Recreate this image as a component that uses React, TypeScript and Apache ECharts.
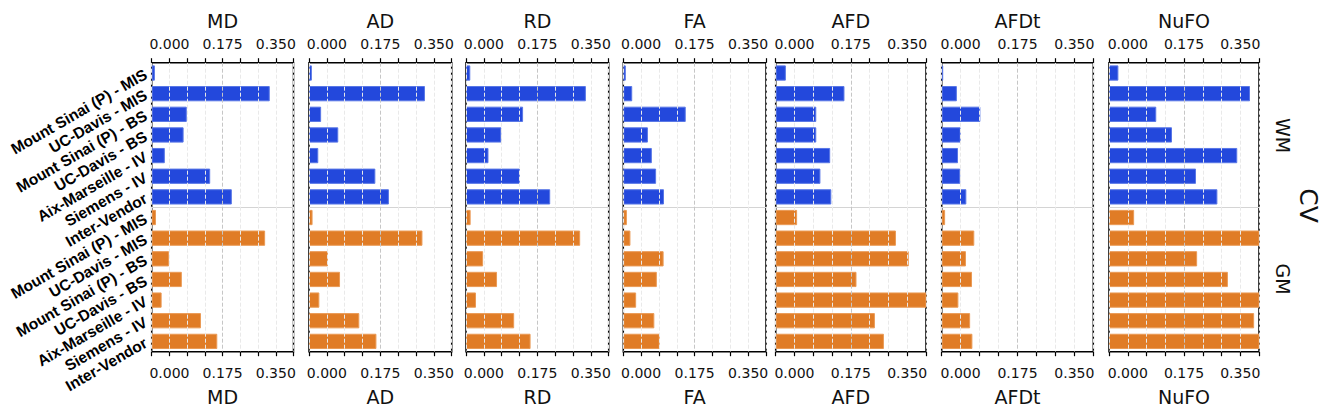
import React, { useEffect, useRef } from "react";
import * as echarts from "echarts";

// ---- data ----
const metrics = ["MD", "AD", "RD", "FA", "AFD", "AFDt", "NuFO"];
const sites = [
  "Mount Sinai (P) - MIS",
  "UC-Davis - MIS",
  "Mount Sinai (P) - BS",
  "UC-Davis - BS",
  "Aix-Marseille - IV",
  "Siemens - IV",
  "Inter-Vendor",
];
const tissues = ["WM", "GM"];
const axisTitle = "CV";

const wmMD = [0.009, 0.333, 0.099, 0.09, 0.037, 0.165, 0.226];
const gmMD = [0.012, 0.32, 0.049, 0.085, 0.028, 0.139, 0.185];
const wmAD = [0.008, 0.325, 0.034, 0.082, 0.026, 0.186, 0.224];
const gmAD = [0.01, 0.318, 0.053, 0.087, 0.029, 0.141, 0.189];
const wmRD = [0.012, 0.336, 0.16, 0.099, 0.063, 0.151, 0.236];
const gmRD = [0.013, 0.32, 0.048, 0.087, 0.028, 0.135, 0.181];
const wmFA = [0.007, 0.025, 0.175, 0.069, 0.08, 0.092, 0.114];
const gmFA = [0.01, 0.02, 0.113, 0.094, 0.036, 0.087, 0.102];
const wmAFD = [0.027, 0.183, 0.108, 0.108, 0.145, 0.119, 0.148];
const gmAFD = [0.057, 0.32, 0.354, 0.215, 0.45, 0.264, 0.288];
const wmAFDt = [0.004, 0.04, 0.102, 0.05, 0.043, 0.049, 0.065];
const gmAFDt = [0.009, 0.086, 0.064, 0.08, 0.044, 0.075, 0.081];
const wmNuFO = [0.025, 0.376, 0.126, 0.168, 0.342, 0.232, 0.289];
const gmNuFO = [0.067, 0.45, 0.235, 0.317, 0.45, 0.387, 0.45];

const wmSeries = [wmMD, wmAD, wmRD, wmFA, wmAFD, wmAFDt, wmNuFO];
const gmSeries = [gmMD, gmAD, gmRD, gmFA, gmAFD, gmAFDt, gmNuFO];

const tickValues = [0.05, 0.2, 0.35];
const tickLabels = ["0.000", "0.175", "0.350"];
const axisMin = 0;
const axisMax = 0.4;
const axisStep = 0.05;

// ---- layout ----
const panelLeft = [151.7, 309, 466, 623.3, 775.7, 941.7, 1109];
const panelWidth = [141.8, 142.7, 142.7, 142.7, 150.3, 151.6, 150];
const panelTop = 62.7;
const panelHeight = 289;

const FONT = "DejaVu Sans";
const LABEL_FONT = "Liberation Sans";
const BLUE = "#2348dc";
const BLUE_EDGE = "#5876e6";
const ORANGE = "#e07c26";
const ORANGE_EDGE = "#ea9a55";

const categories = [...sites, ...sites];

function tickFormatter(v: number) {
  for (let k = 0; k < tickValues.length; k++) {
    if (Math.abs(v - tickValues[k]) < 1e-6) return tickLabels[k];
  }
  return "";
}

function buildOption() {
  const grid: any[] = [];
  const xAxis: any[] = [];
  const yAxis: any[] = [];
  const series: any[] = [];
  const nTicks = Math.round((axisMax - axisMin) / axisStep) + 1;
  const gridColors = Array.from({ length: nTicks }, (_, k) =>
    Math.abs(axisMin + k * axisStep - 0.2) < 1e-6 ? "#c6c6c6" : "#e9e9e9"
  );
  const sepColors = Array.from({ length: categories.length + 1 }, (_, k) =>
    k === sites.length ? "#d4d4d4" : "rgba(0,0,0,0)"
  );

  metrics.forEach((m, i) => {
    grid.push({
      left: panelLeft[i],
      top: panelTop,
      width: panelWidth[i],
      height: panelHeight,
      show: true,
      borderColor: "#000",
      borderWidth: 1.5,
      backgroundColor: "rgba(0,0,0,0)",
      containLabel: false,
      outerBoundsMode: "none",
    });
    const common = {
      type: "value",
      gridIndex: i,
      min: axisMin,
      max: axisMax,
      interval: axisStep,
      z: 3,
      axisLine: { show: false },
      axisTick: { show: true, inside: false, length: 4.5, lineStyle: { color: "#000", width: 1.2 } },
      name: m,
      nameLocation: "middle",
      nameTextStyle: { fontSize: 19, fontFamily: FONT, color: "#111" },
    };
    xAxis.push({
      ...common,
      position: "top",
      nameGap: 32,
      axisLabel: { formatter: tickFormatter, fontSize: 14, fontFamily: FONT, color: "#111", margin: 12 },
      splitLine: { show: false },
    });
    xAxis.push({
      ...common,
      position: "bottom",
      nameGap: 36,
      axisLabel: { formatter: tickFormatter, fontSize: 14, fontFamily: FONT, color: "#111", margin: 14 },
      splitLine: { show: true, lineStyle: { color: gridColors, type: "dashed", width: 1 } },
    });
    yAxis.push({
      type: "category",
      gridIndex: i,
      inverse: true,
      data: categories,
      axisLine: { show: false },
      axisTick: { show: false },
      axisLabel: {
        show: i === 0,
        interval: 0,
        rotate: 30,
        fontWeight: "bold",
        fontSize: 15.5,
        fontFamily: LABEL_FONT,
        color: "#000",
        margin: 6,
      },
      splitLine: { show: true, lineStyle: { color: sepColors, width: 1.2 } },
    });
    series.push({
      type: "bar",
      xAxisIndex: 2 * i + 1,
      yAxisIndex: i,
      barWidth: "74%",
      data: [
        ...wmSeries[i].map((v) => ({
          value: v,
          itemStyle: { color: BLUE, borderColor: BLUE_EDGE, borderWidth: 1 },
        })),
        ...gmSeries[i].map((v) => ({
          value: v,
          itemStyle: { color: ORANGE, borderColor: ORANGE_EDGE, borderWidth: 1 },
        })),
      ],
    });
  });

  const graphic = [
    {
      type: "text",
      x: 1283,
      y: 135.5,
      rotation: -Math.PI / 2,
      style: { text: tissues[0], fontSize: 19, fontFamily: FONT, fill: "#111", align: "center", verticalAlign: "middle" },
    },
    {
      type: "text",
      x: 1283,
      y: 279,
      rotation: -Math.PI / 2,
      style: { text: tissues[1], fontSize: 19, fontFamily: FONT, fill: "#111", align: "center", verticalAlign: "middle" },
    },
    {
      type: "text",
      x: 1308,
      y: 205.5,
      rotation: -Math.PI / 2,
      style: { text: axisTitle, fontSize: 25, fontFamily: FONT, fill: "#111", align: "center", verticalAlign: "middle" },
    },
  ];

  return {
    animation: false,
    backgroundColor: "#fff",
    grid,
    xAxis,
    yAxis,
    series,
    graphic,
  };
}

export default function App() {
  const ref = useRef<HTMLDivElement>(null);
  useEffect(() => {
    if (!ref.current) return;
    const chart = echarts.init(ref.current, undefined, { renderer: "svg" });
    chart.setOption(buildOption() as any);
    return () => chart.dispose();
  }, []);
  return (
    <div
      ref={ref}
      style={{ position: "absolute", left: 0, top: 0, width: 1325, height: 411 }}
    />
  );
}
